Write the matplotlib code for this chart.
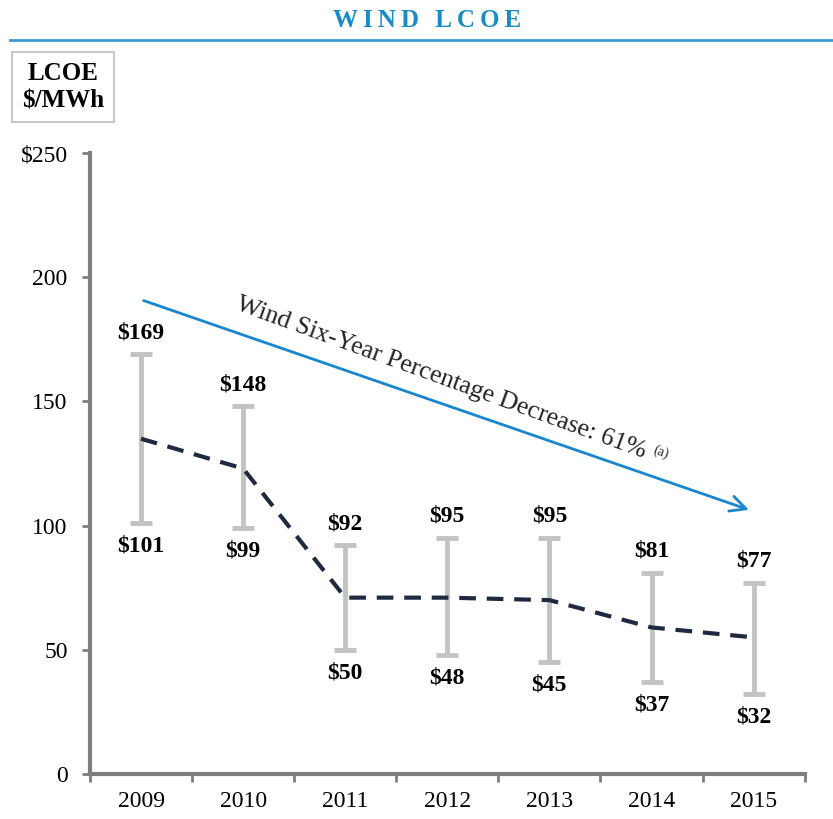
import matplotlib.pyplot as plt
from matplotlib.textpath import TextPath
from matplotlib.font_manager import FontProperties
import numpy as np

years = ['2009', '2010', '2011', '2012', '2013', '2014', '2015']
high = [169, 148, 92, 95, 95, 81, 77]
low = [101, 99, 50, 48, 45, 37, 32]
mid = [135, 123, 71, 71, 70, 59, 55]
yticks = [0, 50, 100, 150, 200, 250]
ytick_labels = ['0', '50', '100', '150', '200', '$250']

plt.rcParams['font.family'] = ['Liberation Serif', 'DejaVu Serif']

fig = plt.figure(figsize=(8.33, 8.19), dpi=100)
ax = fig.add_axes([0.108, 0.055, 0.858, 0.758])

x = np.arange(len(years))
mid_arr = np.array(mid)
ax.errorbar(x, mid_arr, yerr=[mid_arr - np.array(low), np.array(high) - mid_arr],
            fmt='none', ecolor='#c3c3c3', elinewidth=3.5, capsize=8, capthick=3.5, zorder=2)
ax.plot(x, mid, color='#1f2940', lw=3, dashes=(4, 2.6), zorder=3)

for i in range(len(years)):
    ax.annotate(f'${high[i]}', (x[i], high[i]), xytext=(0, 8), textcoords='offset points',
                ha='center', va='bottom', fontsize=17, fontweight='bold')
    ax.annotate(f'${low[i]}', (x[i], low[i]), xytext=(0, -9), textcoords='offset points',
                ha='center', va='top', fontsize=17, fontweight='bold')

# trend arrow
ax.annotate('', xy=(5.98, 106), xytext=(0, 191),
            arrowprops=dict(arrowstyle='->', color='#1a86d0', lw=2, mutation_scale=28))
label = 'Wind Six-Year Percentage Decrease: 61%'
fs = 18.5
ang = -20
start = (0.92, 187)
ax.text(start[0], start[1], label, rotation=ang, rotation_mode='anchor',
        ha='left', va='baseline', fontsize=fs, color='#222222')
w = TextPath((0, 0), label, size=fs, prop=FontProperties(family='Liberation Serif')).get_extents().width
w += 9
ax.annotate('(a)', start, xytext=(w * np.cos(np.radians(ang)), w * np.sin(np.radians(ang)) + 6),
            textcoords='offset points', rotation=ang, rotation_mode='anchor',
            ha='left', va='baseline', fontsize=10, color='#222222')

ax.set_xlim(-0.5, 6.5)
ax.set_ylim(0, 250)
ax.set_yticks(yticks)
ax.set_yticklabels(ytick_labels, fontsize=17)
ax.set_xticks(x)
ax.set_xticklabels(years, fontsize=17)
ax.set_xticks(np.arange(-0.5, 7, 1), minor=True)
ax.tick_params(axis='x', which='major', length=0, pad=12)
ax.tick_params(axis='x', which='minor', length=6, width=2, color='#7f7f7f')
ax.tick_params(axis='y', length=6, width=2, color='#7f7f7f', pad=10)
for s in ['top', 'right']:
    ax.spines[s].set_visible(False)
for s in ['left', 'bottom']:
    ax.spines[s].set_color('#7f7f7f')
    ax.spines[s].set_linewidth(3)

# header
fig.text(0.513, 0.975, '\u2009'.join('WIND') + '\u2009 \u2009' + '\u2009'.join('LCOE'),
         ha='center', va='center', fontsize=18, fontweight='bold', color='#1a8bc9')
fig.add_artist(plt.Line2D([0.012, 1.0], [0.951, 0.951], color='#3a9ad8', lw=2))
fig.text(0.0756, 0.894, 'LCOE\n$/MWh', ha='center', va='center', fontsize=18,
         fontweight='bold', linespacing=1.25,
         bbox=dict(boxstyle='square,pad=0.38', fc='white', ec='#c8c8c8', lw=1.5))

plt.savefig('out.png')
